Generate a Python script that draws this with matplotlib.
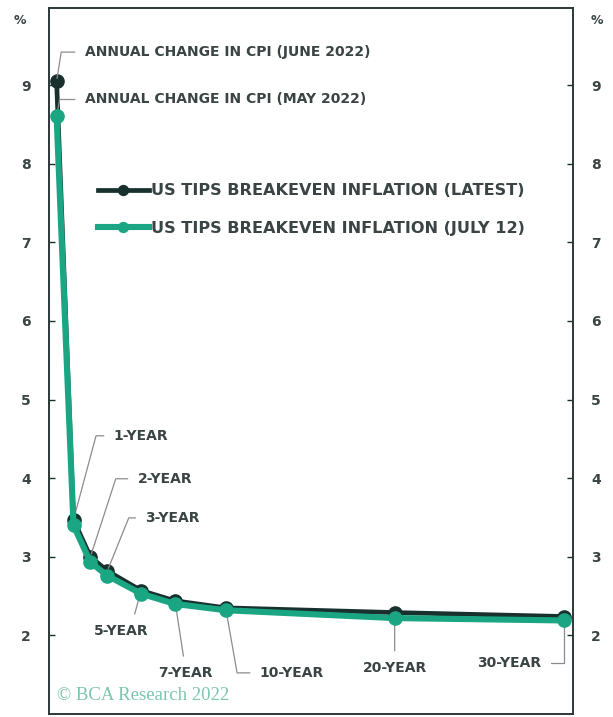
import matplotlib
matplotlib.use("Agg")
import matplotlib.pyplot as plt

# Maturity (years); 0 holds the realised annual CPI change
maturity = [0, 1, 2, 3, 5, 7, 10, 20, 30]
latest = [9.05, 3.47, 3.00, 2.82, 2.57, 2.44, 2.35, 2.29, 2.24]
july12 = [8.60, 3.40, 2.93, 2.76, 2.53, 2.40, 2.32, 2.22, 2.19]
tenor_labels = ["1-YEAR", "2-YEAR", "3-YEAR", "5-YEAR", "7-YEAR",
                "10-YEAR", "20-YEAR", "30-YEAR"]
yticks = [2, 3, 4, 5, 6, 7, 8, 9]

DARK = "#18302e"
GREEN = "#1aa583"
TEXT = "#3a4444"
LEAD = "#8c8c8c"
FONT = "DejaVu Sans"

plt.rcParams["font.family"] = [FONT]

fig = plt.figure(figsize=(6.13, 7.17), dpi=100)
ax = fig.add_axes([49 / 613, 3 / 717, (573 - 49) / 613, (714 - 8) / 717])

ax.plot(maturity, latest, color=DARK, lw=3.4, marker="o", ms=9.5,
        label="US TIPS BREAKEVEN INFLATION (LATEST)", zorder=3)
ax.plot(maturity, july12, color=GREEN, lw=4.4, marker="o", ms=9.5,
        label="US TIPS BREAKEVEN INFLATION (JULY 12)", zorder=4)

ax.set_xlim(-0.45, 30.55)
ax.set_ylim(1.0, 9.98)
ax.set_xticks([])
ax.set_yticks(yticks)
ax.set_yticklabels([str(v) for v in yticks])
ax.tick_params(axis="y", direction="in", length=4, width=1, color=DARK,
               left=True, right=True, labelleft=True, labelright=True,
               pad=13, labelsize=10, labelcolor=TEXT)
for lab in ax.get_yticklabels():
    lab.set_fontweight("bold")
for sp in ax.spines.values():
    sp.set_color("#2c3838")
    sp.set_linewidth(1.4)

# percent markers above the tick labels
ax.text(-0.055, 0.982, "%", transform=ax.transAxes, ha="center", va="center",
        fontsize=9, fontweight="bold", color=TEXT)
ax.text(1.045, 0.982, "%", transform=ax.transAxes, ha="center", va="center",
        fontsize=9, fontweight="bold", color=TEXT)

leg = ax.legend(loc="upper left", bbox_to_anchor=(0.065, 0.772), frameon=False,
                handlelength=3.2, handletextpad=0.1, labelspacing=1.4,
                markerscale=0.75,
                prop={"family": FONT, "weight": "bold", "size": 11.6})
for t in leg.get_texts():
    t.set_color(TEXT)


def callout(text, x, y, dx, dy, relpos, conn, size=10, ha="left"):
    """Label a point with a thin grey leader; dx, dy are offsets in pixels."""
    ax.annotate(text, xy=(x, y), xytext=(dx * 0.72, dy * 0.72),
                textcoords="offset points", ha=ha, va="center",
                fontsize=size, fontweight="bold", color=TEXT,
                arrowprops=dict(arrowstyle="-", color=LEAD, lw=0.9,
                                relpos=relpos, connectionstyle=conn,
                                shrinkA=5, shrinkB=2))


callout("ANNUAL CHANGE IN CPI (JUNE 2022)", maturity[0], latest[0], 28, 29,
        (0, 0.5), "angle,angleA=0,angleB=81,rad=0")
callout("ANNUAL CHANGE IN CPI (MAY 2022)", maturity[0], july12[0], 28, 17,
        (0, 0.5), "angle,angleA=0,angleB=80,rad=0")

tenor_offsets = [
    (40, 84, (0, 0.5), "angle,angleA=0,angleB=75,rad=0", "left"),
    (47, 78, (0, 0.5), "angle,angleA=0,angleB=72,rad=0", "left"),
    (38, 53, (0, 0.5), "angle,angleA=0,angleB=68,rad=0", "left"),
    (-20, -40, (0.7, 1.0), "arc3,rad=0", "center"),
    (10, -72, (0.5, 1.0), "arc3,rad=0", "center"),
    (34, -65, (0, 0.5), "angle,angleA=0,angleB=-80,rad=0", "left"),
    (0, -55, (0.5, 1.0), "arc3,rad=0", "center"),
    (-22, -46, (1, 0.5), "angle,angleA=0,angleB=90,rad=0", "right"),
]
for label, x, y, (dx, dy, rp, conn, ha) in zip(tenor_labels, maturity[1:],
                                                latest[1:], tenor_offsets):
    callout(label, x, y, dx, dy, rp, conn, size=10, ha=ha)

ax.text(0.016, 0.026, "\u00a9 BCA Research 2022", transform=ax.transAxes,
        ha="left", va="center", fontsize=13.5, color="#7cc6ae",
        family="Liberation Serif")

fig.savefig("out.png", dpi=100, facecolor="white")
